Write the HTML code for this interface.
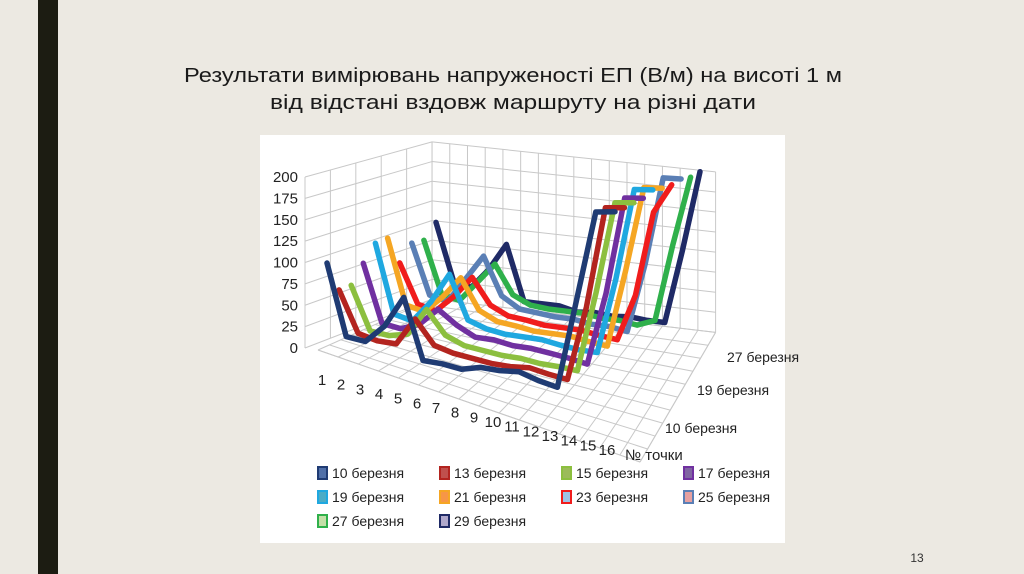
<!DOCTYPE html>
<html><head><meta charset="utf-8">
<style>
html,body{margin:0;padding:0;background:#ece9e2;}
svg{display:block;font-family:"Liberation Sans",sans-serif;}
</style></head>
<body>
<svg id="page" width="1024" height="574" viewBox="0 0 1024 574" xmlns="http://www.w3.org/2000/svg">
<rect x="0" y="0" width="1024" height="574" fill="#ece9e2"/>
<rect x="38" y="0" width="20" height="574" fill="#1c1c12"/>
<text x="513" y="82" text-anchor="middle" font-size="20" fill="#1a1a1a" textLength="658" lengthAdjust="spacingAndGlyphs">Результати вимірювань напруженості ЕП (В/м) на висоті 1 м</text>
<text x="513" y="109" text-anchor="middle" font-size="20" fill="#1a1a1a" textLength="486" lengthAdjust="spacingAndGlyphs">від відстані вздовж маршруту на різні дати</text>
<rect x="260" y="135" width="525" height="408" fill="#ffffff"/>
<g id="grid"></g>
<g id="series"></g>
<g id="labels"></g>
<g id="legend"></g>
<text x="917" y="562" text-anchor="middle" font-size="12" fill="#333">13</text>
</svg>
<script>
const pointLabels = ["1","2","3","4","5","6","7","8","9","10","11","12","13","14","15","16"];
const seriesNames = ["10 березня","13 березня","15 березня","17 березня","19 березня","21 березня","23 березня","25 березня","27 березня","29 березня"];
const seriesColors = ["#1f3b73","#b3241f","#8cbf3f","#7030a0","#1fa8e0","#f5a623","#f01c1c","#5a7fb5","#2fb04b","#1f2a66"];
const legendFills = ["#4f6fa8","#c0504d","#9bbb59","#8064a2","#4bacc6","#f79646","#9dc3e6","#e6a0a0","#c4dfa8","#b0a8cc"];
const yTicks = [0,25,50,75,100,125,150,175,200];
const depthLabels = ["10 березня","19 березня","27 березня"];
const s10 = [100,17,15,35,68,5,5,3,8,8,10,5,2,80,155,155];
const s13 = [63,15,10,10,40,15,10,8,6,6,8,5,3,70,158,158];
const s15 = [63,12,10,15,45,20,12,10,8,8,6,6,5,80,162,162];
const s17 = [84,15,12,20,40,25,15,15,12,12,10,8,5,75,166,166];
const s19 = [103,20,15,40,74,25,18,15,15,15,12,10,10,85,174,174];
const s21 = [104,25,20,40,65,30,20,18,15,15,15,12,10,90,176,176];
const s23 = [68,20,15,35,60,30,20,18,15,15,15,12,10,60,150,180];
const s25 = [87,25,20,50,80,35,22,20,18,18,15,15,12,90,187,187];
const s27 = [85,20,15,40,65,30,20,18,18,18,15,15,12,20,110,190];
const s29 = [102,30,25,50,84,15,15,15,10,12,10,12,10,10,100,198];
const seriesValues = [s10,s13,s15,s17,s19,s21,s23,s25,s27,s29];

const NS = "http://www.w3.org/2000/svg";
const A=[327,348],B=[615,400],C=[436,303],D=[700,335];
const hA=170,hB=243,hC=158,hD=165,vMax=200;
function proj(u,t,v){
  const x=(1-u)*(1-t)*A[0]+u*(1-t)*B[0]+(1-u)*t*C[0]+u*t*D[0];
  const y=(1-u)*(1-t)*A[1]+u*(1-t)*B[1]+(1-u)*t*C[1]+u*t*D[1];
  const h=(1-u)*(1-t)*hA+u*(1-t)*hB+(1-u)*t*hC+u*t*hD;
  return [x,y-v/vMax*h];
}
function uOf(i){return i/(pointLabels.length-1);}
function tOf(s){return s/(seriesNames.length-1);}
function mk(tag,attrs,parent){const e=document.createElementNS(NS,tag);for(const k in attrs)e.setAttribute(k,attrs[k]);parent.appendChild(e);return e;}
function line(g,p,q,name){const l=mk("line",{x1:p[0],y1:p[1],x2:q[0],y2:q[1],stroke:"#c8c8c8","stroke-width":1},g);

}

const grid=document.getElementById("grid");
const uL=-0.04,uR=1.04,tB=1.06;
yTicks.forEach(v=>{line(grid,proj(uL,tB,v),proj(uR,tB,v),"back-wall-gridline");});
for(let k=0;k<=16;k++){const u=uL+(uR-uL)*k/16;line(grid,proj(u,tB,0),proj(u,tB,vMax),"back-wall-vertical");}
yTicks.forEach(v=>{const b=proj(uL,tB,v);line(grid,[305,348-v/vMax*171],b,"left-wall-gridline");});
line(grid,[305,348],[305,177],"y-axis-line");
for(let k=1;k<=5;k++){const f=k/5;const b0=proj(uL,tB,0),b1=proj(uL,tB,vMax);
 line(grid,[305+(b0[0]-305)*f,348+(b0[1]-348)*f],[305+(b1[0]-305)*f,177+(b1[1]-177)*f],"left-wall-vertical");}
const FL=[318,350],FR=[640,462],BLf=proj(uL,tB,0),BRf=proj(uR,tB,0);
function lerp(p,q,f){return [p[0]+(q[0]-p[0])*f,p[1]+(q[1]-p[1])*f];}
for(let k=0;k<=16;k++){const f=k/16;line(grid,lerp(FL,FR,f),lerp(BLf,BRf,f),"floor-depth-line");}
for(let k=0;k<=10;k++){const f=k/10;line(grid,lerp(FL,BLf,f),lerp(FR,BRf,f),"floor-cross-line");}
line(grid,FL,FR,"x-axis-line");
line(grid,FR,BRf,"depth-axis-line");

const sg=document.getElementById("series");
for(let s=seriesNames.length-1;s>=0;s--){
  const vals=seriesValues[s];
  const pts=vals.map((v,i)=>proj(uOf(i),tOf(s),v).map(n=>n.toFixed(1)).join(",")).join(" ");
  const pl=mk("polyline",{points:pts,fill:"none",stroke:seriesColors[s],"stroke-width":5.5,"stroke-linejoin":"round","stroke-linecap":"round"},sg);
  
  
}

const lg=document.getElementById("labels");
yTicks.forEach(v=>{const t=mk("text",{x:298,y:348-v/vMax*171+5,"text-anchor":"end","font-size":15,fill:"#222"},lg);t.textContent=String(v);
 
 });
pointLabels.forEach((p,i)=>{const f=i/15;const x=322+(607-322)*f,y=385+(455-385)*f;
 const t=mk("text",{x:x,y:y,"text-anchor":"middle","font-size":15,fill:"#222"},lg);t.textContent=p;
 
 });
const xt=mk("text",{x:625,y:460,"font-size":15,fill:"#222"},lg);xt.textContent="№ точки";


const dpos=[[665,433],[697,395],[727,362]];
depthLabels.forEach((d,i)=>{const t=mk("text",{x:dpos[i][0],y:dpos[i][1],"font-size":14,fill:"#222"},lg);t.textContent=d;
 
 });

const leg=document.getElementById("legend");
seriesNames.forEach((n,i)=>{const col=i%4,row=Math.floor(i/4);const x=318+col*122,y=467+row*24;
 const r=mk("rect",{x:x,y:y,width:9,height:12,fill:legendFills[i],stroke:seriesColors[i],"stroke-width":2},leg);
 
 
 const t=mk("text",{x:x+14,y:y+11,"font-size":14,fill:"#222"},leg);t.textContent=n;
 
 });
</script>
</body></html>
